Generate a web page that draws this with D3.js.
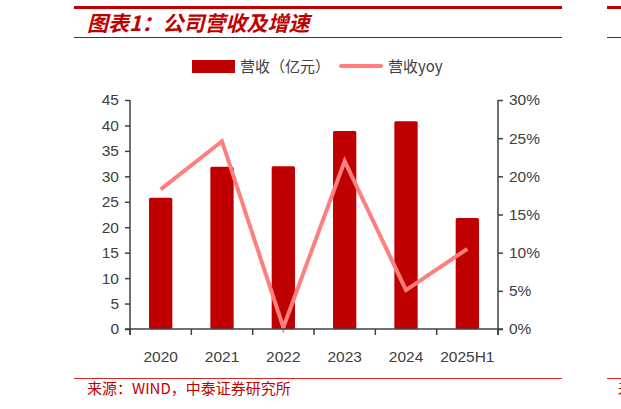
<!DOCTYPE html>
<meta charset="utf-8">
<style>
 body { margin: 0; background: #fff; }
 svg { display: block; font-family: "Liberation Sans", Arial, sans-serif; }
 .axis path, .axis line { stroke: #404040; stroke-width: 1.5px; }
 .axis text { fill: #404040; font-size: 15.5px; }
 .cjk { font-family: "Noto Sans CJK SC", sans-serif; }
</style>
<svg class="chart"></svg>
<script src="https://cdn.jsdelivr.net/npm/d3@7"></script>
<script>

 var years = ["2020", "2021", "2022", "2023", "2024", "2025H1"];
 var revenue = [25.8, 31.9, 32.0, 38.9, 40.8, 21.8];   // 营收（亿元）
 var yoy = [0.183, 0.246, 0.002, 0.220, 0.051, 0.105]; // 营收yoy
 var leftTicks = [0, 5, 10, 15, 20, 25, 30, 35, 40, 45];
 var rightTicks = [0, 0.05, 0.10, 0.15, 0.20, 0.25, 0.30];

 var svg = d3.select(".chart").attr("width", 621).attr("height", 409);

 // header lines + title
 svg.append("line").attr("x1", 74).attr("x2", 562).attr("y1", 7.5).attr("y2", 7.5)
    .attr("stroke", "#c00000").attr("stroke-width", 3);
 svg.append("line").attr("x1", 607).attr("x2", 621).attr("y1", 7.5).attr("y2", 7.5)
    .attr("stroke", "#c00000").attr("stroke-width", 3);
 svg.append("line").attr("x1", 74).attr("x2", 562).attr("y1", 37.5).attr("y2", 37.5)
    .attr("stroke", "#c00000").attr("stroke-width", 1);
 svg.append("line").attr("x1", 607).attr("x2", 621).attr("y1", 37.5).attr("y2", 37.5)
    .attr("stroke", "#c00000").attr("stroke-width", 1);
 svg.append("text").attr("class", "cjk").attr("x", 87).attr("y", 31)
    .attr("fill", "#c00000").attr("font-size", "21px").attr("font-weight", "bold")
    .attr("font-style", "italic")
    .text("图表1：公司营收及增速");

 // footer
 svg.append("line").attr("x1", 74).attr("x2", 562).attr("y1", 378.5).attr("y2", 378.5)
    .attr("stroke", "#d42a2a").attr("stroke-width", 1);
 svg.append("line").attr("x1", 607).attr("x2", 621).attr("y1", 378.5).attr("y2", 378.5)
    .attr("stroke", "#d42a2a").attr("stroke-width", 1);
 svg.append("text").attr("class", "cjk").attr("x", 87).attr("y", 394)
    .attr("fill", "#c00000").attr("font-size", "15px")
    .text("来源：WIND，中泰证券研究所");
 svg.append("text").attr("class", "cjk").attr("x", 618).attr("y", 394)
    .attr("fill", "#c00000").attr("font-size", "14.5px").text("来");

 // scales
 var x = d3.scaleBand().domain(years).range([130, 498]).paddingInner(0.62).paddingOuter(0.31);
 var yL = d3.scaleLinear().domain([0, 45]).range([329, 100]);
 var yR = d3.scaleLinear().domain([0, 0.30]).range([329, 100]);

 // bars
 svg.append("g").selectAll("rect").data(revenue).enter().append("rect")
    .attr("x", function(d, i) { return x(years[i]); })
    .attr("width", x.bandwidth())
    .attr("y", function(d) { return yL(d); })
    .attr("height", function(d) { return yL(0) - yL(d); })
    .attr("rx", 1.5)
    .attr("fill", "#c00000");

 // yoy line
 var line = d3.line()
    .x(function(d, i) { return x(years[i]) + x.bandwidth() / 2; })
    .y(function(d) { return yR(d); });
 svg.append("path").datum(yoy).attr("d", line)
    .attr("fill", "none").attr("stroke", "#ff7f7f").attr("stroke-width", 4)
    .attr("stroke-linejoin", "miter").attr("stroke-miterlimit", 10);

 // axes
 var gL = svg.append("g").attr("class", "axis").attr("transform", "translate(130,0)")
    .call(d3.axisLeft(yL).tickValues(leftTicks).tickSize(5).tickSizeOuter(0).tickPadding(6));
 var gR = svg.append("g").attr("class", "axis").attr("transform", "translate(498,0)")
    .call(d3.axisRight(yR).tickValues(rightTicks).tickSize(5).tickSizeOuter(0).tickPadding(6)
          .tickFormat(d3.format(".0%")));
 var gX = svg.append("g").attr("class", "axis").attr("transform", "translate(0,329)")
    .call(d3.axisBottom(x).tickSize(0).tickPadding(22));
 gX.select(".domain").attr("d", "M125,0H503");
 gX.selectAll(".boundary").data(d3.range(years.length + 1)).enter().append("line")
    .attr("class", "boundary")
    .attr("x1", function(i) { return 130 + i * x.step(); })
    .attr("x2", function(i) { return 130 + i * x.step(); })
    .attr("y1", 0).attr("y2", 6);
 gL.select(".domain").attr("d", "M0,100V335");
 gR.select(".domain").attr("d", "M0,100V335");

 // legend
 var lg = svg.append("g").attr("class", "legend");
 lg.append("rect").attr("x", 192).attr("y", 60).attr("width", 43).attr("height", 13)
    .attr("fill", "#c00000");
 lg.append("text").attr("class", "cjk").attr("x", 240).attr("y", 71.5)
    .attr("fill", "#404040").attr("font-size", "15px").text("营收（亿元）");
 lg.append("line").attr("x1", 341).attr("x2", 381).attr("y1", 66).attr("y2", 66)
    .attr("stroke", "#ff7f7f").attr("stroke-width", 4).attr("stroke-linecap", "round");
 lg.append("text").attr("class", "cjk").attr("x", 388).attr("y", 71.5)
    .attr("fill", "#404040").attr("font-size", "15px").text("营收yoy");

</script>
